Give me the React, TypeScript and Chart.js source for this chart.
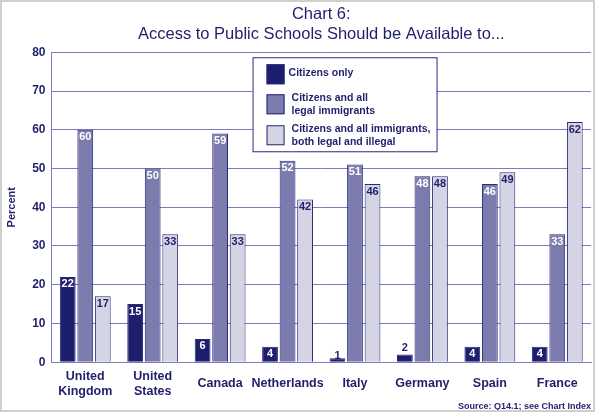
import { useEffect, useRef } from 'react';
import { Chart, registerables } from 'chart.js';

Chart.register(...registerables);

const countries = [
  ['United', 'Kingdom'],
  ['United', 'States'],
  'Canada',
  'Netherlands',
  'Italy',
  'Germany',
  'Spain',
  'France',
];
const citizensOnly = [22, 15, 6, 4, 1, 2, 4, 4];
const legalImmigrants = [60, 50, 59, 52, 51, 48, 46, 33];
const allImmigrants = [17, 33, 33, 42, 46, 48, 49, 62];
const seriesNames = [
  ['Citizens only'],
  ['Citizens and all', 'legal immigrants'],
  ['Citizens and all immigrants,', 'both legal and illegal'],
];
const yTicks = [0, 10, 20, 30, 40, 50, 60, 70, 80];

const NAVY = '#1f1f6b';
const FONT = '"Liberation Sans", Arial, sans-serif';
const fills = ['#1e1e6e', '#7b7bae', '#d4d4e4'];
const labelColors = ['#ffffff', '#ffffff', NAVY];

const valueLabels = {
  id: 'valueLabels',
  afterDatasetsDraw(chart: Chart) {
    const { ctx } = chart;
    ctx.save();
    ctx.font = `bold 11px ${FONT}`;
    ctx.textAlign = 'center';
    chart.data.datasets.forEach((ds, i) => {
      const meta = chart.getDatasetMeta(i);
      meta.data.forEach((bar: any, j) => {
        const v = ds.data[j] as number;
        if (v < 3) {
          ctx.fillStyle = NAVY;
          ctx.textBaseline = 'bottom';
          ctx.fillText(String(v), bar.x, bar.y + (v < 2 ? 3 : -1));
        } else {
          ctx.fillStyle = labelColors[i];
          ctx.textBaseline = 'top';
          ctx.fillText(String(v), bar.x, bar.y + 2);
        }
      });
    });
    ctx.restore();
  },
};

const boxLegend = {
  id: 'boxLegend',
  afterDraw(chart: Chart) {
    const { ctx, chartArea } = chart;
    const x = chartArea.left + 201;
    const y = chartArea.top + 5;
    const w = 184;
    const h = 94;
    ctx.save();
    ctx.fillStyle = '#ffffff';
    ctx.fillRect(x, y, w, h);
    ctx.strokeStyle = '#2a2a7a';
    ctx.lineWidth = 1;
    ctx.strokeRect(x + 0.5, y + 0.5, w, h);
    ctx.font = `bold 10.5px ${FONT}`;
    ctx.textBaseline = 'middle';
    ctx.textAlign = 'left';
    const rows = [17, 47, 78];
    seriesNames.forEach((lines, i) => {
      const cy = y + rows[i];
      ctx.fillStyle = fills[i];
      ctx.fillRect(x + 14, cy - 10, 18, 20);
      ctx.strokeStyle = '#2a2a7a';
      ctx.strokeRect(x + 14.5, cy - 9.5, 17, 19);
      ctx.fillStyle = NAVY;
      if (lines.length === 1) {
        ctx.fillText(lines[0], x + 36, cy - 1);
      } else {
        ctx.fillText(lines[0], x + 39, cy - 6);
        ctx.fillText(lines[1], x + 39, cy + 7);
      }
    });
    ctx.restore();
  },
};

export default function App() {
  const canvasRef = useRef<HTMLCanvasElement>(null);
  const chartRef = useRef<Chart | null>(null);

  useEffect(() => {
    if (!canvasRef.current) return;
    if (chartRef.current) chartRef.current.destroy();
    const ctx = canvasRef.current.getContext('2d');
    if (!ctx) return;

    const sets = [citizensOnly, legalImmigrants, allImmigrants];
    chartRef.current = new Chart(ctx, {
      type: 'bar',
      data: {
        labels: countries,
        datasets: sets.map((data, i) => ({
          label: seriesNames[i].join(' '),
          data,
          backgroundColor: fills[i],
          borderColor: '#2a2a7a',
          borderWidth: 1,
          categoryPercentage: 0.78,
          barPercentage: 0.9,
        })),
      },
      options: {
        animation: false,
        responsive: true,
        maintainAspectRatio: false,
        layout: { padding: { left: 3, right: 2, top: 2, bottom: 0 } },
        plugins: {
          legend: { display: false },
          tooltip: { enabled: false },
          title: {
            display: true,
            text: ['Chart 6:', 'Access to Public Schools Should be Available to...'],
            color: NAVY,
            fullSize: false,
            font: { family: FONT, size: 16.5, weight: 'normal', lineHeight: 1.22 },
            padding: { top: 0, bottom: 8 },
          },
          subtitle: {
            display: true,
            position: 'bottom',
            align: 'end',
            text: 'Source: Q14.1; see Chart Index',
            color: NAVY,
            font: { family: FONT, size: 9, weight: 'bold' },
            padding: { top: 0, bottom: -2 },
          },
        },
        scales: {
          x: {
            grid: { display: false },
            border: { display: true, color: '#7b7bbf', width: 1 },
            afterFit: (axis: any) => {
              axis.height = 39;
            },
            ticks: {
              color: NAVY,
              maxRotation: 0,
              autoSkip: false,
              crossAlign: 'center',
              padding: 6,
              font: { family: FONT, size: 12.5, weight: 'bold', lineHeight: 1.25 },
            },
          },
          y: {
            min: 0,
            max: 80,
            afterBuildTicks: (axis: any) => {
              axis.ticks = yTicks.map((value) => ({ value }));
            },
            grid: { color: '#7b7bbf', drawTicks: false, lineWidth: 1 },
            border: { display: true, color: '#7b7bbf' },
            ticks: {
              color: NAVY,
              padding: 6,
              font: { family: FONT, size: 12, weight: 'bold' },
            },
            title: {
              display: true,
              text: 'Percent',
              color: NAVY,
              font: { family: FONT, size: 11, weight: 'bold' },
              padding: { top: 0, bottom: 8 },
            },
          },
        },
      },
      plugins: [valueLabels, boxLegend],
    });

    return () => {
      if (chartRef.current) {
        chartRef.current.destroy();
        chartRef.current = null;
      }
    };
  }, []);

  return (
    <div
      style={{
        position: 'absolute',
        left: 0,
        top: 0,
        width: 595,
        height: 412,
        boxSizing: 'border-box',
        border: '2px solid #cfcfcf',
        background: '#ffffff',
      }}
    >
      <canvas ref={canvasRef}></canvas>
    </div>
  );
}
